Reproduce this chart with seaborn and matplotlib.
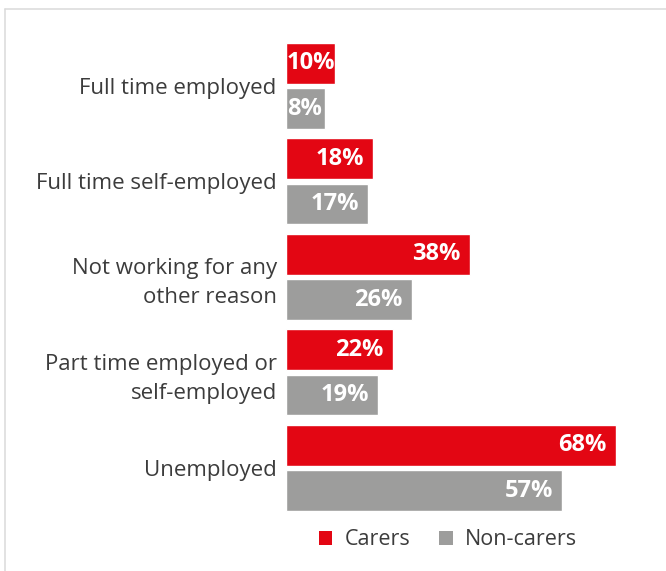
import matplotlib
matplotlib.use("Agg")
import matplotlib.pyplot as plt
from matplotlib.patches import Patch
from matplotlib.lines import Line2D
import seaborn as sns
import pandas as pd

# Employment status shares for carers vs non-carers (%)
categories = [
    "Full time employed",
    "Full time self-employed",
    "Not working for any\nother reason",
    "Part time employed or\nself-employed",
    "Unemployed",
]
carers = [10, 18, 38, 22, 68]
non_carers = [8, 17, 26, 19, 57]
series_names = ["Carers", "Non-carers"]

RED = "#e30613"
GREY = "#9d9d9c"
TEXT = "#3c3c3c"

df = pd.DataFrame({
    "status": categories * 2,
    "share": carers + non_carers,
    "group": [series_names[0]] * len(categories) + [series_names[1]] * len(categories),
})

sns.set_theme(style="white")
plt.rcParams["font.family"] = ["Open Sans", "DejaVu Sans"]

W, H = 666, 571
fig = plt.figure(figsize=(W / 100, H / 100), dpi=100)
ax = fig.add_axes([286 / W, 0.0970, 360 / W, 0.8363])

sns.barplot(
    data=df, x="share", y="status", hue="group",
    order=categories, hue_order=series_names,
    palette=[RED, GREY], orient="h",
    width=0.95, gap=0.1, saturation=1, ax=ax, legend=False,
)

ax.set_xlim(0, 360 / 4.85)
ax.set_ylim(4.5, -0.5)
ax.set_xlabel("")
ax.set_ylabel("")
ax.set_xticks([])
for s in ax.spines.values():
    s.set_visible(False)
ax.tick_params(axis="y", length=0, pad=6.7, labelsize=16, labelcolor=TEXT)
for lbl in ax.get_yticklabels():
    lbl.set_linespacing(1.48)

# Value labels inside each bar
for container in ax.containers:
    for bar in container:
        w = bar.get_width()
        yc = bar.get_y() + bar.get_height() / 2
        if w < 12:
            ax.annotate(f"{w:.0f}%", xy=(0, yc), xytext=(0.5, 0),
                        textcoords="offset points", ha="left", va="center",
                        color="white", fontsize=17, fontweight="bold")
        else:
            ax.annotate(f"{w:.0f}%", xy=(w, yc), xytext=(-6.8, 0),
                        textcoords="offset points", ha="right", va="center",
                        color="white", fontsize=17, fontweight="bold")

handles = [Patch(facecolor=RED, edgecolor="none"), Patch(facecolor=GREY, edgecolor="none")]
leg = fig.legend(
    handles, series_names, loc="center", bbox_to_anchor=(0.6727, 0.0543),
    ncol=2, frameon=False, fontsize=15.5, handlelength=0.62, handleheight=0.62,
    handletextpad=0.57, columnspacing=1.35, borderpad=0, borderaxespad=0,
)
for t in leg.get_texts():
    t.set_color(TEXT)

# Light frame along the top and left edges
fx = 4.5 / W
fy = 1 - 8.5 / H
fig.add_artist(Line2D([fx, fx], [0, fy], transform=fig.transFigure, color="#dadada", lw=1.1))
fig.add_artist(Line2D([fx, 1], [fy, fy], transform=fig.transFigure, color="#dadada", lw=1.1))

fig.savefig("out.png", dpi=100, facecolor="white")
